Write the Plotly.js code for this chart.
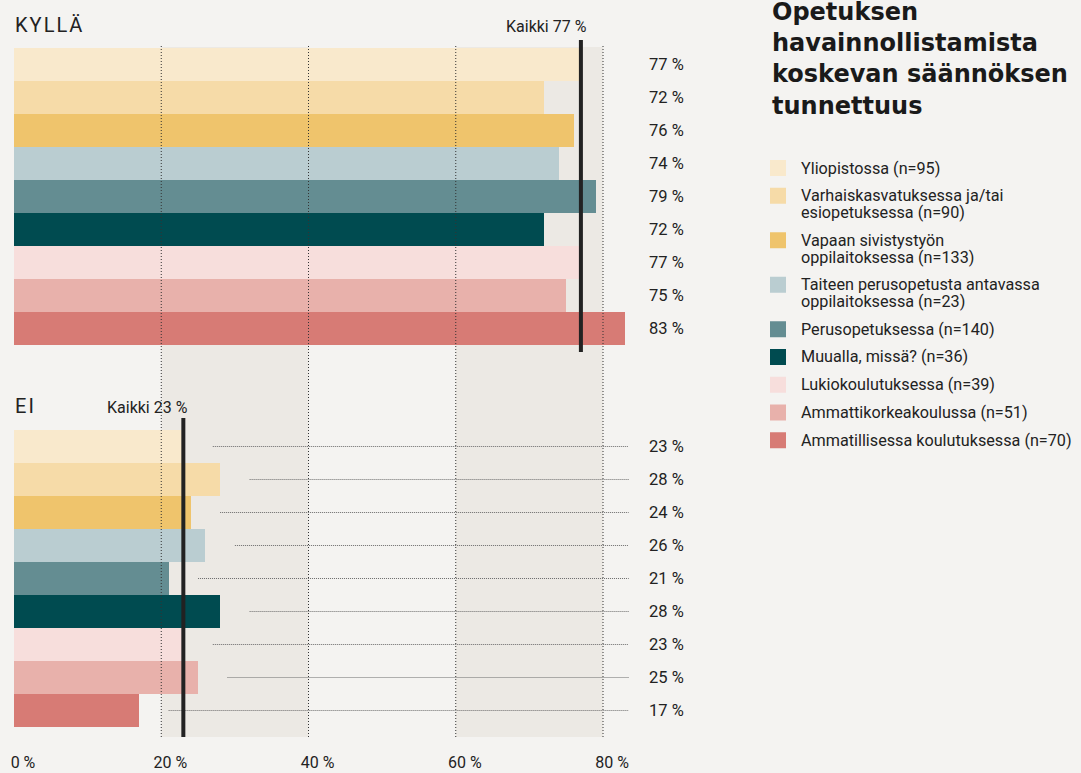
<!DOCTYPE html>
<html>
<head>
<meta charset="utf-8">
<script src="https://cdn.plot.ly/plotly-3.0.1.min.js"></script>
<style>
  html, body { margin: 0; padding: 0; background: #f4f3f1; }
  #chart { width: 1081px; height: 773px; }
</style>
</head>
<body>
<div id="chart"></div>
<script>
// ---------- DATA ----------
const categories = [
  "Yliopistossa (n=95)",
  "Varhaiskasvatuksessa ja/tai esiopetuksessa (n=90)",
  "Vapaan sivistystyön oppilaitoksessa (n=133)",
  "Taiteen perusopetusta antavassa oppilaitoksessa (n=23)",
  "Perusopetuksessa (n=140)",
  "Muualla, missä? (n=36)",
  "Lukiokoulutuksessa (n=39)",
  "Ammattikorkeakoulussa (n=51)",
  "Ammatillisessa koulutuksessa (n=70)"
];
const legendLines = [
  ["Yliopistossa (n=95)"],
  ["Varhaiskasvatuksessa ja/tai", "esiopetuksessa (n=90)"],
  ["Vapaan sivistystyön", "oppilaitoksessa (n=133)"],
  ["Taiteen perusopetusta antavassa", "oppilaitoksessa (n=23)"],
  ["Perusopetuksessa (n=140)"],
  ["Muualla, missä? (n=36)"],
  ["Lukiokoulutuksessa (n=39)"],
  ["Ammattikorkeakoulussa (n=51)"],
  ["Ammatillisessa koulutuksessa (n=70)"]
];
const kylla = [77, 72, 76, 74, 79, 72, 77, 75, 83];
const ei = [23, 28, 24, 26, 21, 28, 23, 25, 17];
const kaikkiKylla = 77;
const kaikkiEi = 23;
const panelKylla = "K\u200aY\u200aL\u200aL\u200aÄ";
const panelEi = "E\u200aI";
const titleLines = ["Opetuksen", "havainnollistamista", "koskevan säännöksen", "tunnettuus"];
const xTicks = [0, 20, 40, 60, 80];
const xTickLabels = ["0 %", "20 %", "40 %", "60 %", "80 %"];
const gridTicks = [20, 40, 60, 80];
const bandRanges = [[20, 40], [60, 80]];

// ---------- STYLE ----------
const colors = ["#f9e9cc", "#f6dba8", "#efc46c", "#bacdd1", "#648d92", "#004b50", "#f7dedc", "#e8b1ab", "#d77b75"];
const BG = "#f4f3f1";
const BAND = "#ece9e4";
const TXT = "#222222";
const LBL = "Roboto, sans-serif";
const W = 1081, H = 773, L = 14;
const PXU = 7.3625; // pixels per percent
const XMAX = 90;
function py(px) { return 1 - px / H; }
function pxp(px) { return (px - L) / (W - L); }

const traces = [
  { type: "bar", orientation: "h", x: kylla, y: categories, xaxis: "x", yaxis: "y",
    marker: { color: colors, line: { width: 0 } }, hoverinfo: "skip", showlegend: false },
  { type: "bar", orientation: "h", x: ei, y: categories, xaxis: "x", yaxis: "y2",
    marker: { color: colors, line: { width: 0 } }, hoverinfo: "skip", showlegend: false }
];

const shapes = [];
bandRanges.forEach(r => shapes.push({
  type: "rect", xref: "x", yref: "paper", x0: r[0], x1: r[1], y0: py(737), y1: py(47),
  fillcolor: BAND, line: { width: 0 }, layer: "below"
}));
gridTicks.forEach(t => shapes.push({
  type: "line", xref: "x", yref: "paper", x0: t, x1: t, y0: py(737), y1: py(45),
  line: { color: "#333", width: 1, dash: "1px,2px" }, layer: "above"
}));
// leader lines in EI panel
ei.forEach((v, i) => shapes.push({
  type: "line", xref: "x", yref: "y2", x0: v + 4, x1: 83.5, y0: i, y1: i,
  line: { color: "#6a6a6a", width: 1, dash: "1px,1px" }, layer: "above"
}));
// average lines
shapes.push({ type: "line", xref: "x", yref: "paper", x0: kaikkiKylla, x1: kaikkiKylla, y0: py(352), y1: py(40),
  line: { color: "#222", width: 4 }, layer: "above" });
shapes.push({ type: "line", xref: "x", yref: "paper", x0: kaikkiEi, x1: kaikkiEi, y0: py(737), y1: py(418),
  line: { color: "#222", width: 4 }, layer: "above" });

const annotations = [];
// value labels
kylla.forEach((v, i) => annotations.push({
  xref: "paper", yref: "y", x: pxp(686), y: i, xanchor: "right", yanchor: "middle",
  text: v + " %", showarrow: false, font: { family: LBL, size: 16.5, color: TXT }
}));
ei.forEach((v, i) => annotations.push({
  xref: "paper", yref: "y2", x: pxp(686), y: i, xanchor: "right", yanchor: "middle",
  text: v + " %", showarrow: false, font: { family: LBL, size: 16.5, color: TXT }
}));
// panel labels
annotations.push({ xref: "paper", yref: "paper", x: pxp(13), y: py(25), xanchor: "left", yanchor: "middle",
  text: panelKylla, showarrow: false, font: { family: LBL, size: 20, color: TXT } });
annotations.push({ xref: "paper", yref: "paper", x: pxp(13), y: py(406), xanchor: "left", yanchor: "middle",
  text: panelEi, showarrow: false, font: { family: LBL, size: 20, color: TXT } });
// Kaikki labels
annotations.push({ xref: "x", yref: "paper", x: kaikkiKylla, xshift: 8, y: py(26), xanchor: "right", yanchor: "middle",
  text: "Kaikki " + kaikkiKylla + " %", showarrow: false, font: { family: LBL, size: 16, color: TXT } });
annotations.push({ xref: "x", yref: "paper", x: kaikkiEi, xshift: 7, y: py(407), xanchor: "right", yanchor: "middle",
  text: "Kaikki " + kaikkiEi + " %", showarrow: false, font: { family: LBL, size: 16, color: TXT } });
// title
annotations.push({ xref: "paper", yref: "paper", x: pxp(770), y: py(-4), xanchor: "left", yanchor: "top", align: "left",
  text: "<b>" + titleLines.join("<br>") + "</b>", showarrow: false,
  font: { family: "DejaVu Sans, sans-serif", size: 24, color: "#1a1a1a" } });
// legend
let ly = 168;
legendLines.forEach((lines, i) => {
  shapes.push({ type: "rect", xref: "paper", yref: "paper", x0: pxp(770), x1: pxp(786), y0: py(ly + 8), y1: py(ly - 8),
    fillcolor: colors[i], line: { width: 0 } });
  lines.forEach((t, k) => annotations.push({
    xref: "paper", yref: "paper", x: pxp(799), y: py(ly + k * 16.75), xanchor: "left", yanchor: "middle",
    text: t, showarrow: false, font: { family: LBL, size: 16.2, color: TXT }
  }));
  ly += 27.75 + 16.75 * (lines.length - 1);
});

const yCommon = {
  type: "category", categoryorder: "array", categoryarray: categories, range: [8.5, -0.5],
  showticklabels: false, showgrid: false, zeroline: false, showline: false, ticks: "", anchor: "x", fixedrange: true
};

const layout = {
  width: W, height: H,
  margin: { l: L, r: 0, t: 0, b: 0 },
  paper_bgcolor: BG, plot_bgcolor: "rgba(0,0,0,0)",
  bargap: 0, showlegend: false,
  xaxis: {
    domain: [0, XMAX * PXU / (W - L)], range: [0, XMAX], anchor: "y2",
    tickmode: "array", tickvals: xTicks, ticktext: xTickLabels,
    showgrid: false, zeroline: false, showline: false, ticks: "",
    tickfont: { family: LBL, size: 16, color: TXT }, ticklabelstandoff: 24, ticklabelshift: 9, fixedrange: true
  },
  yaxis: Object.assign({}, yCommon, { domain: [py(345), py(48)] }),
  yaxis2: Object.assign({}, yCommon, { domain: [py(727), py(430)] }),
  shapes: shapes,
  annotations: annotations
};

Plotly.newPlot("chart", traces, layout, { displayModeBar: false, staticPlot: true });
</script>
</body>
</html>
